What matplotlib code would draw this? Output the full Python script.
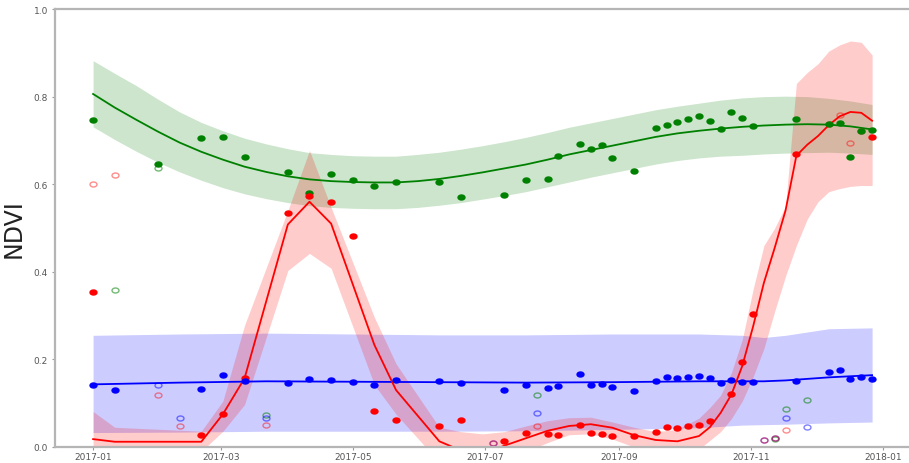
import numpy as np
import matplotlib
matplotlib.use('Agg')
import matplotlib.pyplot as plt
import matplotlib.dates as mdates
from matplotlib.path import Path
from matplotlib.transforms import Affine2D

# days counted from 2017-01-01
START = '2017-01-01'

# observed NDVI per class (filled = clear, open = flagged)
green_days = [0, 30, 50, 60, 70, 90, 100, 110, 120, 130, 140, 160, 170, 190, 200, 210, 215, 225, 230,
              235, 240, 250, 260, 265, 270, 275, 280, 285, 290, 295, 300, 305, 325, 340, 345, 350, 355, 360]
green_ndvi = [0.747, 0.647, 0.706, 0.707, 0.663, 0.628, 0.579, 0.624, 0.609, 0.595, 0.606, 0.604, 0.571,
              0.575, 0.609, 0.611, 0.665, 0.692, 0.681, 0.690, 0.659, 0.631, 0.729, 0.736, 0.742, 0.748,
              0.755, 0.744, 0.725, 0.764, 0.751, 0.734, 0.749, 0.737, 0.740, 0.663, 0.721, 0.723]
green_flag_days = [10, 30, 80, 205, 315, 320, 330]
green_flag_ndvi = [0.358, 0.636, 0.073, 0.118, 0.019, 0.087, 0.107]

blue_days = [0, 10, 50, 60, 70, 90, 100, 110, 120, 130, 140, 160, 170, 190, 200, 210, 215, 225, 230,
             235, 240, 250, 260, 265, 270, 275, 280, 285, 290, 295, 300, 305, 325, 340, 345, 350, 355, 360]
blue_ndvi = [0.141, 0.130, 0.133, 0.164, 0.150, 0.146, 0.155, 0.153, 0.148, 0.141, 0.153, 0.150, 0.146,
             0.130, 0.141, 0.134, 0.139, 0.166, 0.142, 0.143, 0.137, 0.128, 0.150, 0.159, 0.157, 0.159,
             0.162, 0.157, 0.146, 0.153, 0.148, 0.148, 0.150, 0.171, 0.175, 0.155, 0.159, 0.155]
blue_flag_days = [30, 40, 80, 185, 205, 310, 315, 320, 330]
blue_flag_ndvi = [0.141, 0.066, 0.066, 0.009, 0.078, 0.017, 0.021, 0.066, 0.046]

red_days = [0, 50, 60, 70, 90, 100, 110, 120, 130, 140, 160, 170, 190, 200, 210, 215, 225, 230, 235,
            240, 250, 260, 265, 270, 275, 280, 285, 295, 300, 305, 325, 360]
red_ndvi = [0.353, 0.027, 0.075, 0.157, 0.535, 0.572, 0.560, 0.481, 0.082, 0.062, 0.048, 0.062, 0.014,
            0.032, 0.030, 0.027, 0.050, 0.031, 0.030, 0.025, 0.025, 0.034, 0.046, 0.043, 0.047, 0.051,
            0.060, 0.121, 0.193, 0.303, 0.670, 0.708]
red_flag_days = [0, 10, 30, 40, 80, 185, 205, 310, 315, 320, 340, 345, 350, 355]
red_flag_ndvi = [0.600, 0.621, 0.118, 0.048, 0.050, 0.009, 0.048, 0.017, 0.020, 0.038, 0.737, 0.759,
                 0.694, 0.721]

# fitted curves with their bands
green_fit_days = [0, 10, 20, 30, 40, 50, 60, 70, 80, 90, 100, 110, 120, 130, 140, 150, 160, 170, 180,
                  190, 200, 210, 220, 230, 240, 250, 260, 270, 280, 290, 300, 310, 320, 330, 340, 350, 360]
green_fit = [0.806, 0.775, 0.747, 0.720, 0.695, 0.674, 0.656, 0.640, 0.628, 0.618, 0.611, 0.607, 0.605,
             0.604, 0.604, 0.607, 0.612, 0.619, 0.627, 0.636, 0.645, 0.656, 0.668, 0.678, 0.688, 0.698,
             0.708, 0.716, 0.722, 0.727, 0.731, 0.734, 0.736, 0.737, 0.736, 0.732, 0.725]
green_hi = [0.882, 0.853, 0.825, 0.794, 0.765, 0.741, 0.722, 0.705, 0.692, 0.681, 0.672, 0.668, 0.665,
            0.664, 0.664, 0.668, 0.673, 0.680, 0.688, 0.697, 0.707, 0.718, 0.730, 0.740, 0.750, 0.760,
            0.770, 0.778, 0.785, 0.792, 0.797, 0.800, 0.801, 0.800, 0.796, 0.790, 0.782]
green_lo = [0.731, 0.702, 0.675, 0.650, 0.628, 0.609, 0.592, 0.578, 0.567, 0.558, 0.551, 0.547, 0.545,
            0.544, 0.544, 0.547, 0.552, 0.558, 0.566, 0.574, 0.583, 0.594, 0.605, 0.616, 0.626, 0.636,
            0.646, 0.654, 0.660, 0.664, 0.666, 0.669, 0.671, 0.672, 0.673, 0.671, 0.668]

blue_fit_days = [0, 40, 80, 120, 160, 200, 240, 280, 300, 310, 320, 340, 360]
blue_fit = [0.143, 0.147, 0.150, 0.149, 0.148, 0.147, 0.148, 0.150, 0.150, 0.150, 0.152, 0.159, 0.164]
blue_hi = [0.255, 0.258, 0.260, 0.258, 0.256, 0.256, 0.258, 0.258, 0.255, 0.250, 0.255, 0.270, 0.272]
blue_lo = [0.033, 0.034, 0.036, 0.036, 0.036, 0.037, 0.040, 0.044, 0.050, 0.051, 0.052, 0.055, 0.057]

red_fit_days = [0, 10, 50, 60, 70, 90, 100, 110, 130, 140, 160, 170, 180, 190, 200, 210, 220, 230, 240,
                250, 260, 270, 280, 285, 290, 295, 300, 305, 310, 315, 320, 325, 330, 335, 340, 345,
                350, 355, 360]
red_fit = [0.018, 0.012, 0.012, 0.075, 0.157, 0.508, 0.560, 0.510, 0.233, 0.130, 0.013, -0.008, -0.018,
           0.003, 0.020, 0.037, 0.048, 0.052, 0.044, 0.027, 0.016, 0.013, 0.025, 0.045, 0.078, 0.120,
           0.185, 0.275, 0.375, 0.455, 0.540, 0.665, 0.690, 0.710, 0.735, 0.755, 0.765, 0.763, 0.745]
red_hi = [0.081, 0.045, 0.036, 0.105, 0.278, 0.540, 0.677, 0.547, 0.296, 0.190, 0.045, 0.035, 0.030,
          0.035, 0.048, 0.060, 0.067, 0.068, 0.057, 0.045, 0.035, 0.040, 0.066, 0.090, 0.118, 0.170,
          0.245, 0.360, 0.460, 0.500, 0.550, 0.830, 0.855, 0.875, 0.904, 0.918, 0.927, 0.924, 0.895]
red_lo = [-0.050, -0.030, -0.010, 0.036, 0.097, 0.403, 0.442, 0.408, 0.142, 0.075, -0.035, -0.050, -0.055,
          -0.030, -0.010, 0.010, 0.028, 0.030, 0.018, 0.000, -0.010, -0.015, -0.005, 0.015, 0.035, 0.065,
          0.105, 0.160, 0.225, 0.310, 0.390, 0.460, 0.520, 0.560, 0.583, 0.590, 0.595, 0.597, 0.597]

t0 = mdates.date2num(np.datetime64(START))


def to_x(days):
    return t0 + np.asarray(days, dtype=float)


# slightly squat dots
dot = Affine2D().scale(1.0, 0.72).transform_path(Path.unit_circle())

fig = plt.figure(figsize=(9.09, 4.64), dpi=100)
ax = fig.add_axes([55 / 909, 16 / 464, 858 / 909, 438 / 464])

bands = [
    (green_fit_days, green_lo, green_hi, 'green'),
    (blue_fit_days, blue_lo, blue_hi, 'blue'),
    (red_fit_days, red_lo, red_hi, 'red'),
]
for d, lo, hi, c in bands:
    ax.fill_between(to_x(d), lo, hi, color=c, alpha=0.2, lw=0)

ax.plot(to_x(green_fit_days), green_fit, color='green', lw=1.3)
ax.plot(to_x(blue_fit_days), blue_fit, color='blue', lw=1.3)
ax.plot(to_x(red_fit_days), red_fit, color='red', lw=1.3)

flags = [
    (green_flag_days, green_flag_ndvi, (0.0, 0.5, 0.0, 0.55)),
    (blue_flag_days, blue_flag_ndvi, (0.0, 0.0, 1.0, 0.5)),
    (red_flag_days, red_flag_ndvi, (1.0, 0.0, 0.0, 0.45)),
]
for d, v, c in flags:
    ax.plot(to_x(d), v, ls='none', marker=dot, ms=5.0, mfc='none', mec=c, mew=1.0)

ax.plot(to_x(green_days), green_ndvi, ls='none', marker=dot, ms=5.0, color='green')
ax.plot(to_x(red_days), red_ndvi, ls='none', marker=dot, ms=5.0, color='red')
ax.plot(to_x(blue_days), blue_ndvi, ls='none', marker=dot, ms=5.0, color='blue')

ax.set_xlim(t0 - 17.6, t0 + 378.9)
ax.set_ylim(0, 1.0)
ax.xaxis.set_major_locator(mdates.MonthLocator(bymonth=[1, 3, 5, 7, 9, 11]))
ax.xaxis.set_major_formatter(mdates.DateFormatter('%Y-%m'))
ax.set_yticks([0.0, 0.2, 0.4, 0.6, 0.8, 1.0])

for side in ['top', 'left', 'bottom']:
    ax.spines[side].set_color('#b5b5b5')
    ax.spines[side].set_linewidth(1.6)
ax.spines['right'].set_visible(False)
ax.tick_params(labelsize=6.5, labelcolor='#555555', color='#999999', length=2.5, width=0.8, pad=2.5)
ax.tick_params(axis='x', pad=1)

ax.set_ylabel('NDVI', fontsize=17, color='#222222', labelpad=6)

fig.savefig('out.png', dpi=100)
